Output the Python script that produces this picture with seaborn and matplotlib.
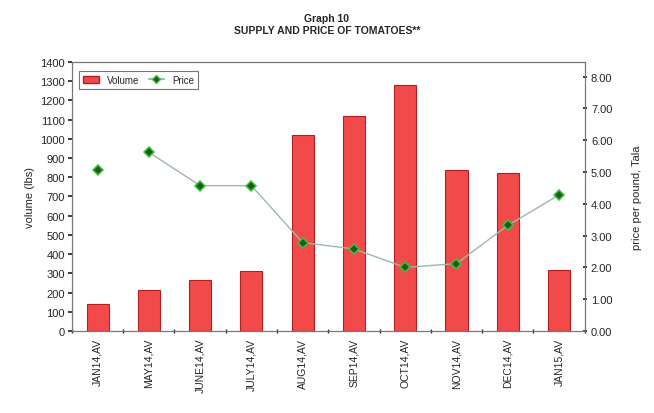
import matplotlib
matplotlib.use("Agg")
import matplotlib.pyplot as plt
import seaborn as sns
import pandas as pd
import numpy as np

categories = ["JAN14,AV", "MAY14,AV", "JUNE14,AV", "JULY14,AV", "AUG14,AV",
              "SEP14,AV", "OCT14,AV", "NOV14,AV", "DEC14,AV", "JAN15,AV"]
volume = [140, 215, 265, 310, 1020, 1120, 1280, 840, 820, 320]
price = [5.05, 5.62, 4.57, 4.57, 2.78, 2.58, 2.0, 2.12, 3.32, 4.28]

sns.set_theme(style="white")
plt.rcParams['font.family'] = ['Liberation Sans', 'DejaVu Sans']

df = pd.DataFrame({"month": categories, "volume": volume, "price": price})

fig = plt.figure(figsize=(6.54, 4.14), dpi=100)
ax = fig.add_axes([0.110, 0.198, 0.784, 0.650])

sns.barplot(data=df, x="month", y="volume", ax=ax, color="#f24a4a",
            width=0.43, edgecolor="#b02020", linewidth=0.8, saturation=1,
            label="Volume")
ax.set_ylim(0, 1400)
ax.set_yticks(np.arange(0, 1401, 100))
ax.set_xlim(-0.5, len(categories) - 0.5)
ax.set_xlabel("")
ax.set_ylabel("volume (lbs)", fontsize=8)
ax.tick_params(axis="y", labelsize=8, length=3, direction="out", left=True, pad=2)
ax.tick_params(axis="x", labelsize=7.5, length=0, pad=5)
ax.set_xticks(range(len(categories)))
ax.set_xticklabels(categories, rotation=90)
ax.set_xticks(np.arange(-0.5, len(categories), 1), minor=True)
ax.tick_params(axis="x", which="minor", length=3, direction="inout", bottom=True)
for s in ax.spines.values():
    s.set_color("#777777")
    s.set_linewidth(0.8)

ax2 = ax.twinx()
x = np.arange(len(categories))
ax2.plot(x[1:], price[1:], color="#9dbaa6", linewidth=1.0, zorder=2)
ax2.plot(x, price, linestyle="none", marker="D", markersize=5.5,
         markerfacecolor="#1f5a1f", markeredgecolor="#39c439",
         markeredgewidth=1.1, zorder=3)
ax2.set_ylim(0, 8.46)
ax2.set_yticks(np.arange(0, 8.01, 1))
ax2.set_yticklabels([f"{v:.2f}" for v in np.arange(0, 8.01, 1)])
ax2.tick_params(axis="y", labelsize=8, length=3, direction="inout", right=True, pad=3)
ax2.set_ylabel("price per pound, Tala", fontsize=8, labelpad=14)
for s in ax2.spines.values():
    s.set_color("#777777")
    s.set_linewidth(0.8)

from matplotlib.patches import Patch
from matplotlib.lines import Line2D
handles = [Patch(facecolor="#f24a4a", edgecolor="#b02020", label="Volume"),
           Line2D([0], [0], color="#9dbaa6", marker="D", markersize=4,
                  markerfacecolor="#1f5a1f", markeredgecolor="#39c439", label="Price")]
leg = ax.legend(handles=handles, loc="upper left", ncol=2, fontsize=7,
                frameon=True, fancybox=False, edgecolor="#555555",
                handlelength=1.6, columnspacing=1.0, borderpad=0.4,
                bbox_to_anchor=(0.005, 0.985))
leg.get_frame().set_linewidth(0.8)

fig.suptitle("Graph 10\nSUPPLY AND PRICE OF TOMATOES**", fontsize=7.5,
             fontweight="bold", y=0.965)

fig.savefig("out.png", dpi=100)
